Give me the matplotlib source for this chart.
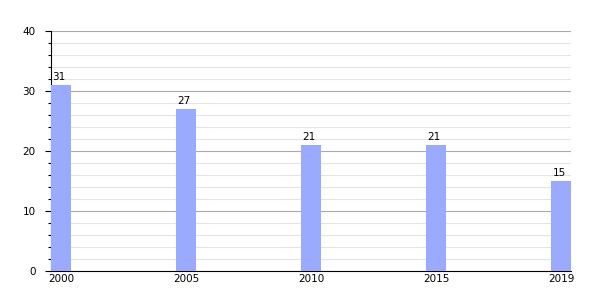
import matplotlib
matplotlib.use('Agg')
import matplotlib.pyplot as plt
import numpy as np

years = ['2000', '2005', '2010', '2015', '2019']
values = [31, 27, 21, 21, 15]

fig = plt.figure(figsize=(6, 3), dpi=100)
ax = fig.add_axes([0.085, 0.0967, 0.867, 0.8])

x = np.arange(len(years))
ax.bar(x, values, width=0.16, color='#99aaff', zorder=3)
for xi, v in zip(x, values):
    ax.text(xi - 0.015, v + 0.5, str(v), ha='center', va='bottom', fontsize=7.5, color='k')

ax.set_xlim(-0.08, 4.08)
ax.set_ylim(0, 40)
ax.set_xticks(x)
ax.set_xticklabels(years, fontsize=7.5)
ax.set_yticks(np.arange(0, 41, 10))
ax.set_yticks(np.arange(0, 41, 2), minor=True)
ax.tick_params(axis='y', labelsize=7.5, length=4, width=0.8, pad=7)
ax.tick_params(axis='y', which='minor', length=2.5, width=0.8)
ax.tick_params(axis='x', length=0, pad=2)

ax.grid(axis='y', which='major', color='#aaaaaa', linewidth=0.8, zorder=0)
ax.grid(axis='y', which='minor', color='#e4e4e4', linewidth=0.8, zorder=0)

for s in ['top', 'right']:
    ax.spines[s].set_visible(False)
ax.spines['left'].set_linewidth(0.8)
ax.spines['bottom'].set_linewidth(0.8)

fig.savefig('out.png', dpi=100)
